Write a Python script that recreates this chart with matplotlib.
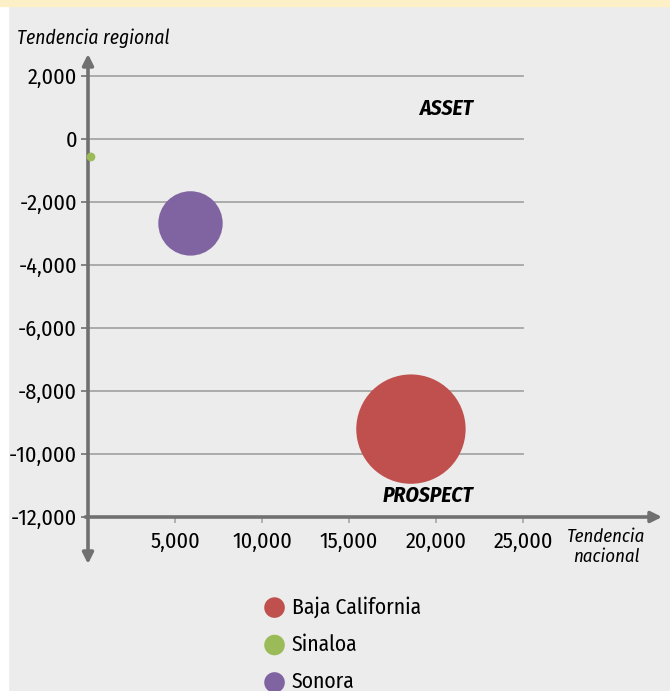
import matplotlib
matplotlib.use('Agg')
import matplotlib.pyplot as plt
from matplotlib.patches import Rectangle

# data
estados = ['Baja California', 'Sinaloa', 'Sonora']
tend_nacional = [18560, 170, 5890]
tend_regional = [-9210, -570, -2680]
tamano = [6200, 40, 2150]
colores = ['#c0504d', '#9bbb59', '#8064a2']

y_ticks = [2000, 0, -2000, -4000, -6000, -8000, -10000, -12000]
x_ticks = [5000, 10000, 15000, 20000, 25000]

W, H = 670, 691
bg = '#ececec'
axis_color = '#707070'
grid_color = '#a6a6a6'
plt.rcParams['font.family'] = ['Fira Sans Condensed', 'DejaVu Sans']

fig = plt.figure(figsize=(W / 100, H / 100), dpi=100, facecolor=bg)
fig.patches.append(Rectangle((0, 0), 8 / W, 1, transform=fig.transFigure, color='white', zorder=0))
fig.patches.append(Rectangle((0, 1 - 6 / H), 1, 6 / H, transform=fig.transFigure, color='#fdf0c6', zorder=1))

# axes placed in pixel space: x=0 at px 88, 5000 per 87 px; y=0 at px 139, 2000 per 63 px
left_px, right_px, top_px, bot_px = 80, 664, 52, 566
ax = fig.add_axes([left_px / W, 1 - bot_px / H, (right_px - left_px) / W, (bot_px - top_px) / H])
ax.set_facecolor('none')
xs = 5000 / 87
ys = 2000 / 63
ax.set_xlim((left_px - 88) * xs, (right_px - 88) * xs)
ax.set_ylim(-(bot_px - 139) * ys, (139 - top_px) * ys)

for s in ax.spines.values():
    s.set_visible(False)
ax.spines['left'].set_position(('data', 0))
ax.spines['bottom'].set_position(('data', -12000))

# gridlines
for y in y_ticks[:-1]:
    ax.plot([0, 25000], [y, y], color=grid_color, lw=1.3, zorder=1)

# axes with arrows
y_top = (139 - 54) * ys
y_bot = -(564 - 139) * ys
x_end = (662 - 88) * xs
ax.annotate('', xy=(0, y_top), xytext=(0, y_bot),
            arrowprops=dict(arrowstyle='<|-|>', color=axis_color, lw=2.6, mutation_scale=16,
                            shrinkA=0, shrinkB=0), annotation_clip=False, zorder=3)
ax.annotate('', xy=(x_end, -12000), xytext=(-150, -12000),
            arrowprops=dict(arrowstyle='-|>', color=axis_color, lw=2.6, mutation_scale=16,
                            shrinkA=0, shrinkB=0), annotation_clip=False, zorder=3)

ax.set_yticks(y_ticks)
ax.set_yticklabels([f'{v:,}' for v in y_ticks])
ax.set_xticks(x_ticks)
ax.set_xticklabels([f'{v:,}' for v in x_ticks])
ax.tick_params(axis='y', direction='out', length=5, width=1.2, color=axis_color, pad=3, labelsize=16)
ax.tick_params(axis='x', direction='out', length=4, width=1.2, color=grid_color, pad=6, labelsize=16)

# bubbles
for i in range(len(estados)):
    ax.scatter(tend_nacional[i], tend_regional[i], s=tamano[i], color=colores[i],
               label=estados[i], edgecolors='none', zorder=4)

ax.text(20575, 970, 'ASSET', fontsize=15.5, fontweight='bold', style='italic', ha='center', va='center')
ax.text(19540, -11320, 'PROSPECT', fontsize=15.5, fontweight='bold', style='italic', ha='center', va='center')

fig.text(17 / W, 1 - 38 / H, 'Tendencia regional', fontsize=14, style='italic', ha='left', va='center')
fig.text(606 / W, 1 - 547 / H, 'Tendencia\nnacional', fontsize=13.5, style='italic', ha='center', va='center',
         linespacing=1.15)

leg = fig.legend(loc='upper left', bbox_to_anchor=(253 / W, 1 - 585 / H), frameon=False,
                 fontsize=15.5, labelspacing=0.75, handletextpad=0.3, borderpad=0, handlelength=1.0)
for h in leg.legend_handles:
    h.set_sizes([220])

fig.savefig('out.png', dpi=100, facecolor=bg)
